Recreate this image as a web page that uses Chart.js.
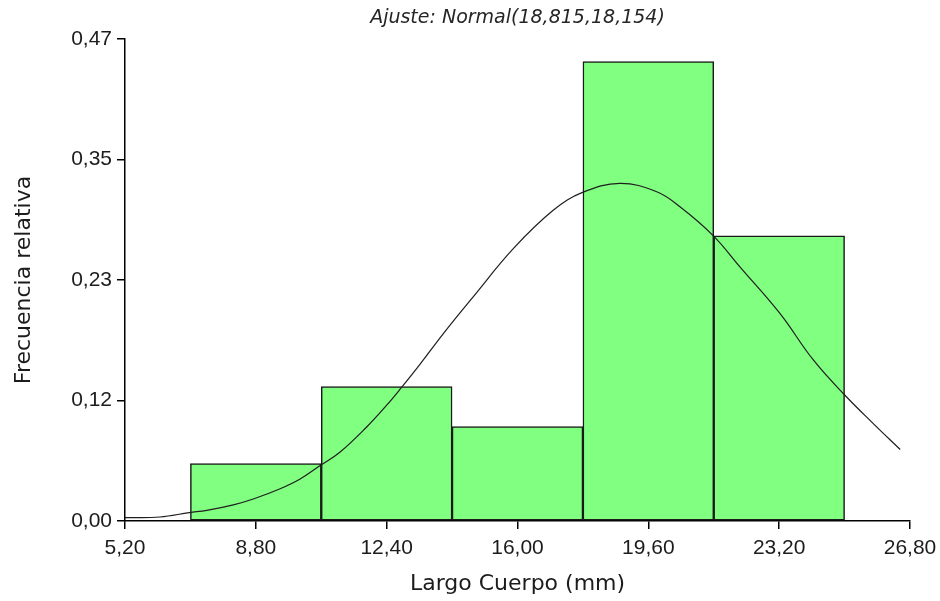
<!DOCTYPE html>
<html>
<head>
<meta charset="utf-8">
<script src="https://cdn.jsdelivr.net/npm/chart.js@4.4.1/dist/chart.umd.min.js"></script>
<style>
  body { margin: 0; background: #fff; }
</style>
</head>
<body>
<canvas id="histChart" width="940" height="601"></canvas>
<script>
// Histogram classes (centre of each bar) and relative frequencies
const classCentres = [8.8, 12.4, 16.0, 19.6, 23.2];
const relFreq = [0.056, 0.131, 0.092, 0.448, 0.278];

// Fitted normal curve
const curveX = [5.20, 6.16, 6.97, 7.45, 8.18, 8.73, 9.47, 10.02, 10.57, 11.12, 11.85, 12.40, 12.81,
                13.31, 13.96, 14.78, 15.89, 16.99, 17.79, 18.82, 19.83, 20.47, 21.39, 22.12, 23.22,
                24.14, 25.01, 25.79, 26.53];
const curveY = [0.0033, 0.0039, 0.0082, 0.0104, 0.0158, 0.0215, 0.0315, 0.041, 0.054, 0.0673, 0.0917,
                0.1129, 0.1303, 0.1525, 0.1828, 0.2186, 0.2658, 0.3032, 0.3204, 0.3292, 0.321, 0.3064,
                0.2781, 0.2478, 0.2024, 0.157, 0.1226, 0.095, 0.0697];

const xTicks = [5.2, 8.8, 12.4, 16.0, 19.6, 23.2, 26.8];
const yTicks = [0, 0.1175, 0.235, 0.3525, 0.47];
const yTickLabels = ['0,00', '0,12', '0,23', '0,35', '0,47'];

const titleText = 'Ajuste: Normal(18,815,18,154)';
const TEXT = '#1c1c1c';
const TICK_FONT = 'Liberation Sans, Arial, sans-serif';

// title centred over the plot area, like the original
const topTitle = {
    id: 'topTitle',
    afterDraw(chart) {
        const c = chart.ctx;
        const area = chart.chartArea;
        c.save();
        c.font = 'italic 19px "DejaVu Sans"';
        c.fillStyle = '#262626';
        c.textAlign = 'center';
        c.textBaseline = 'middle';
        c.fillText(titleText, (area.left + area.right) / 2, 18);
        c.restore();
    }
};

const ctx = document.getElementById('histChart').getContext('2d');

new Chart(ctx, {
    type: 'bar',
    data: {
        datasets: [
            {
                type: 'line',
                data: curveX.map((x, i) => ({ x: x, y: curveY[i] })),
                borderColor: '#1e1e1e',
                borderWidth: 1.2,
                pointRadius: 0,
                tension: 0.4,
                order: 0
            },
            {
                data: classCentres.map((x, i) => ({ x: x, y: relFreq[i] })),
                backgroundColor: '#80ff80',
                borderColor: '#1a1a1a',
                borderWidth: 1.5,
                borderSkipped: false,
                barPercentage: 1,
                categoryPercentage: 1,
                order: 1
            }
        ]
    },
    options: {
        responsive: false,
        animation: false,
        layout: { padding: { top: 39, right: 30, left: 0, bottom: 0 } },
        plugins: {
            legend: { display: false },
            tooltip: { enabled: false }
        },
        scales: {
            x: {
                type: 'linear',
                offset: false,
                min: 5.2,
                max: 26.8,
                afterBuildTicks: axis => { axis.ticks = xTicks.map(v => ({ value: v })); },
                afterFit: axis => {
                    axis.height = 80;
                    // keep the plot right edge where the original has it
                    axis.paddingRight = 0;
                    axis.paddingLeft = 0;
                },
                grid: { offset: false, drawOnChartArea: false, drawTicks: true, tickLength: 8, color: '#000', lineWidth: 1.5 },
                border: { display: true, color: '#000', width: 1.5 },
                ticks: {
                    color: TEXT,
                    padding: 7,
                    maxRotation: 0,
                    font: { family: TICK_FONT, size: 21 },
                    callback: v => v.toFixed(2).replace('.', ',')
                },
                title: {
                    display: true,
                    text: 'Largo Cuerpo (mm)',
                    color: TEXT,
                    padding: { top: 0, bottom: 4 },
                    font: { family: '"DejaVu Sans"', size: 22 }
                }
            },
            y: {
                min: 0,
                max: 0.47,
                afterBuildTicks: axis => { axis.ticks = yTicks.map(v => ({ value: v })); },
                afterFit: axis => { axis.width = 125; },
                grid: { drawOnChartArea: false, drawTicks: true, tickLength: 8, color: '#000', lineWidth: 1.5 },
                border: { display: true, color: '#000', width: 1.5 },
                ticks: {
                    color: TEXT,
                    padding: 5,
                    font: { family: TICK_FONT, size: 21 },
                    callback: (v, i) => yTickLabels[i]
                },
                title: {
                    display: true,
                    text: 'Frecuencia relativa',
                    color: TEXT,
                    padding: { top: 11, bottom: 0 },
                    font: { family: '"DejaVu Sans"', size: 22 }
                }
            }
        }
    },
    plugins: [topTitle]
});
</script>
</body>
</html>
